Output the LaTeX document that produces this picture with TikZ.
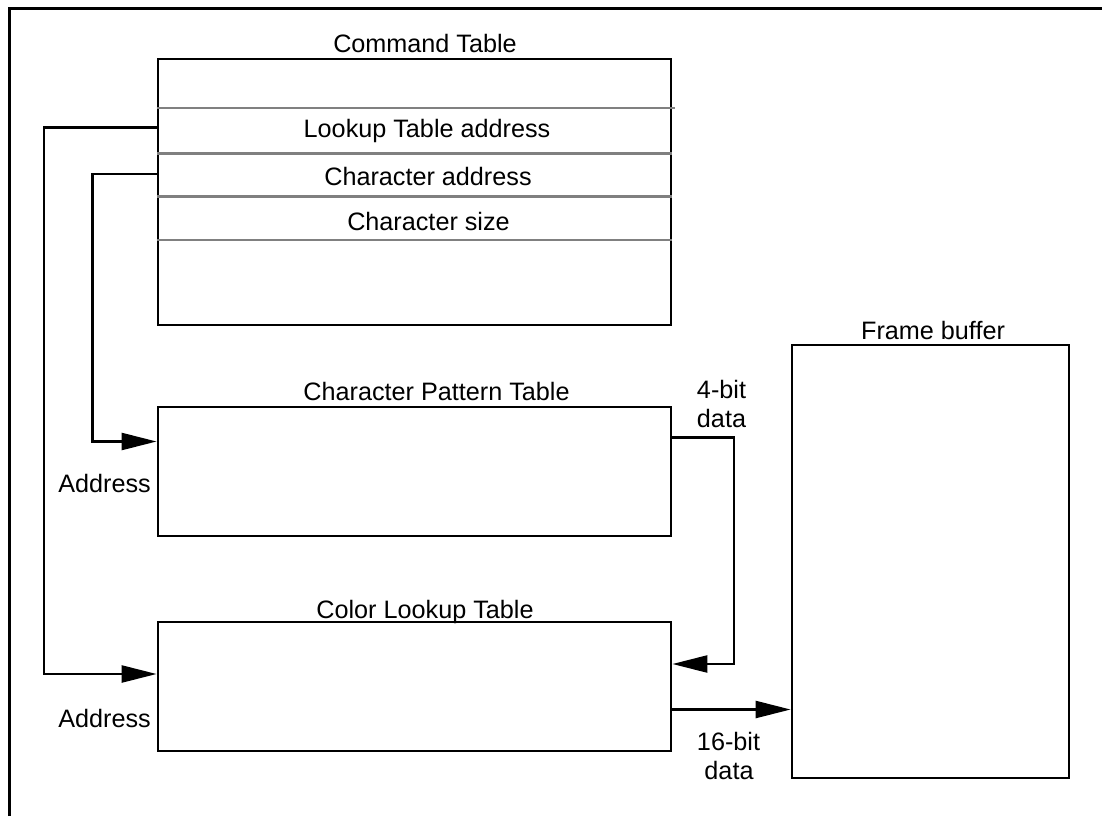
\documentclass[tikz,border=0pt]{standalone}
\usepackage{fontspec}
\setmainfont{Liberation Sans}
\usetikzlibrary{arrows.meta}
\begin{document}
\begin{tikzpicture}[x=1pt,y=-1pt,
  box/.style={draw=black,line width=2.8pt,inner sep=0pt,rectangle},
  lbl/.style={inner sep=0pt,anchor=base,font=\fontsize{25.2pt}{29pt}\selectfont},
  rlbl/.style={inner sep=0pt,anchor=base east,font=\fontsize{25.2pt}{29pt}\selectfont},
  rowline/.style={draw={rgb,255:red,128;green,128;blue,128},line width=2.5pt},
  conn/.style={draw=black,line width=2.4pt},
  arr/.style={conn,-{Triangle[length=35pt,width=17pt]}},
  frameline/.style={draw=black,line width=3pt}]
\useasboundingbox (0,0) rectangle (1102,816);
\fill[white] (0,0) rectangle (1102,816);
% outer frame (top and left edges)
\draw[frameline] (9,816) -- (9,8.5) -- (1102,8.5);
% boxes
\node[box,minimum width=513pt,minimum height=266pt] (ct) at (414.5,192) {};
\node[box,minimum width=513pt,minimum height=129pt] (cpt) at (414.5,471.5) {};
\node[box,minimum width=513pt,minimum height=129pt] (clt) at (414.5,686.5) {};
\node[box,minimum width=277pt,minimum height=433pt] (fb) at (930.5,561.5) {};
% rows of command table
\draw[rowline] (ct.west |- 0,108) -- (675,108);
\draw[rowline] (ct.west |- 0,153.5) -- (ct.east |- 0,153.5);
\draw[rowline] (ct.west |- 0,196.5) -- (ct.east |- 0,196.5);
\draw[rowline] (ct.west |- 0,240) -- (ct.east |- 0,240);
% titles
\node[lbl] (tct) at (425,52.7) {Command Table};
\node[lbl] (tlta) at (427,137.3) {Lookup Table address};
\node[lbl] (tca) at (428,185) {Character address};
\node[lbl] (tcs) at (428.5,230.7) {Character size};
\node[lbl] (tcpt) at (436.5,400.7) {Character Pattern Table};
\node[lbl] (tclt) at (425,618.3) {Color Lookup Table};
\node[lbl] (tfb) at (933,339.5) {Frame buffer};
\node[rlbl] (ad1) at (151,492.7) {Address};
\node[rlbl] (ad2) at (151,727.3) {Address};
\node[lbl] (b4a) at (721.5,398.3) {4-bit};
\node[lbl] (b4b) at (721.5,427.3) {data};
\node[lbl] (b16a) at (728.5,750) {16-bit};
\node[lbl] (b16b) at (729,779) {data};
% connectors
\draw[arr] (ct.west |- 0,127.5) -- (44,127.5) |- (clt.west |- 0,674);
\draw[arr] (ct.west |- 0,174) -- (92.5,174) |- (cpt.west |- 0,441.5);
\draw[arr] (cpt.east |- 0,437.5) -- (734,437.5) |- (clt.east |- 0,664);
\draw[arr] (clt.east |- 0,709.5) -- (fb.west |- 0,709.5);
\end{tikzpicture}
\end{document}
